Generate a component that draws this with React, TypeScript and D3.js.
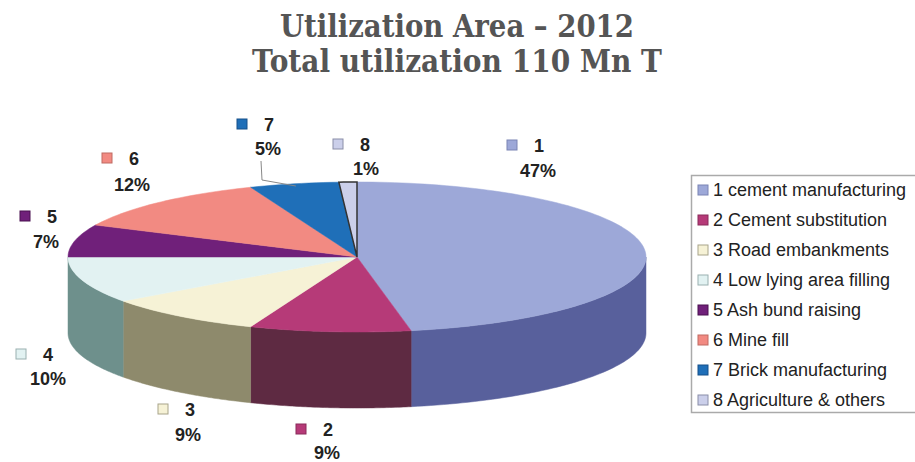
import React from "react";
import * as d3 from "d3";

const categories = ["1", "2", "3", "4", "5", "6", "7", "8"];
const legendNames = [
  "1 cement manufacturing",
  "2 Cement substitution",
  "3 Road embankments",
  "4 Low lying area filling",
  "5 Ash bund raising",
  "6 Mine fill",
  "7 Brick manufacturing",
  "8 Agriculture & others",
];
const values = [47, 9, 9, 10, 7, 12, 5, 1];
const titleLines = ["Utilization Area \u2013 2012", "Total utilization 110 Mn T"];

const topColors = ["#9DA8D8", "#B63A78", "#F6F2D6", "#E2F2F2", "#70207A", "#F28A82", "#1F6FB8", "#CBCFEA"];
const sideColors = ["#58609C", "#5E2A42", "#8E8A6C", "#6E908C", "#3E1046", "#8A4A44", "#10406A", "#787A8C"];
const markerStroke = ["#7A84B4", "#8A2A5A", "#A8A48A", "#9AB0B0", "#4A1050", "#C06A62", "#16508A", "#8A8EA8"];

// layout of the data labels: [numberX, numberBaseline, percentX, percentBaseline]
const labelLayout: [number, number, number, number][] = [
  [539, 152, 538, 177],
  [328, 436, 327, 459],
  [190, 416, 188, 441],
  [48, 361, 48, 385],
  [52, 223, 46, 248],
  [134, 165, 132, 191],
  [269, 131, 268, 155],
  [365, 151, 366, 175],
];

const W = 915;
const H = 462;
const cx = 357;
const cy = 257;
const rx = 289;
const ry = 75;
const depth = 76;

function pt(a: number, k = 1, dy = 0): [number, number] {
  return [cx + rx * k * Math.sin(a), cy - ry * k * Math.cos(a) + dy];
}

export default function App() {
  const pie = d3
    .pie<number>()
    .sort(null)
    .value((d) => d)
    .startAngle(0)
    .endAngle(2 * Math.PI);
  const arcs = pie(values);
  const line = d3.line();
  const total = d3.sum(values);

  const sidePaths = arcs
    .map((a, i) => {
      const a0 = Math.max(a.startAngle, Math.PI / 2);
      const a1 = Math.min(a.endAngle, (3 * Math.PI) / 2);
      if (a1 <= a0) return null;
      const n = 60;
      const angs = d3.range(n + 1).map((j) => a0 + ((a1 - a0) * j) / n);
      const top = angs.map((t) => pt(t));
      const bot = angs.slice().reverse().map((t) => pt(t, 1, depth));
      return { i, d: line([...top, ...bot]) + "Z" };
    })
    .filter(Boolean) as { i: number; d: string }[];

  const topPaths = arcs.map((a, i) => {
    const n = Math.max(4, Math.ceil(((a.endAngle - a.startAngle) / (2 * Math.PI)) * 240));
    const angs = d3.range(n + 1).map((j) => a.startAngle + ((a.endAngle - a.startAngle) * j) / n);
    const pts: [number, number][] = [[cx, cy], ...angs.map((t) => pt(t))];
    return { i, d: line(pts) + "Z" };
  });

  // leader line for slice 7
  const a7 = arcs[6];
  const mid7 = (a7.startAngle + a7.endAngle) / 2;
  const end7 = pt(mid7, 0.97);
  const lx = labelLayout[6][2] - 7;
  const leader: [number, number][] = [
    [lx, labelLayout[6][3] + 6],
    [lx + 1, end7[1] - 6],
    end7,
  ];

  const labelFont = "'Liberation Sans', Arial, sans-serif";

  return (
    <svg
      width={W}
      height={H}
      style={{ position: "absolute", left: 0, top: 0, background: "#fff" }}
      xmlns="http://www.w3.org/2000/svg"
    >
      <rect x={0} y={0} width={W} height={H} fill="#fff" />
      {/* Title */}
      {titleLines.map((t, i) => (
        <text
          key={i}
          x={457}
          y={i === 0 ? 37 : 72}
          textAnchor="middle"
          fontFamily="'DejaVu Serif', serif"
          fontWeight="bold"
          fontSize={31}
          fill="#555"
          textLength={i === 0 ? 354 : 410}
          lengthAdjust="spacingAndGlyphs"
        >
          {t}
        </text>
      ))}

      {/* Pie sides */}
      {sidePaths.map((s) => (
        <path key={"s" + s.i} d={s.d} fill={sideColors[s.i]} stroke={sideColors[s.i]} strokeWidth={0.5} />
      ))}
      {/* Pie tops */}
      {topPaths.map((s) => (
        <path
          key={"t" + s.i}
          d={s.d}
          fill={topColors[s.i]}
          stroke={s.i === 7 ? "#333" : topColors[s.i]}
          strokeWidth={s.i === 7 ? 1.5 : 0.5}
          strokeLinejoin="miter"
        />
      ))}

      {/* leader line */}
      <path d={line(leader) as string} fill="none" stroke="#888" strokeWidth={1} />

      {/* Data labels */}
      {categories.map((c, i) => {
        const [nx, ny, px, py] = labelLayout[i];
        return (
          <g key={"l" + i} fontFamily={labelFont} fontWeight="bold" fontSize={18} fill="#222">
            <rect
              x={nx - 27 - 5}
              y={ny - 12}
              width={10}
              height={10}
              fill={topColors[i]}
              stroke={markerStroke[i]}
              strokeWidth={1}
            />
            <text x={nx} y={ny} textAnchor="middle">
              {c}
            </text>
            <text x={px} y={py} textAnchor="middle">
              {Math.round((values[i] / total) * 100)}%
            </text>
          </g>
        );
      })}

      {/* Legend */}
      <rect x={691.5} y={175.5} width={240} height={237} fill="#fff" stroke="#aaa" strokeWidth={1.5} />
      {legendNames.map((n, i) => {
        const by = 196 + i * 30;
        return (
          <g key={"lg" + i}>
            <rect
              x={698}
              y={by - 11}
              width={10}
              height={10}
              fill={topColors[i]}
              stroke={markerStroke[i]}
              strokeWidth={1}
            />
            <text x={713} y={by} fontFamily={labelFont} fontSize={18} fill="#222">
              {n}
            </text>
          </g>
        );
      })}
    </svg>
  );
}
